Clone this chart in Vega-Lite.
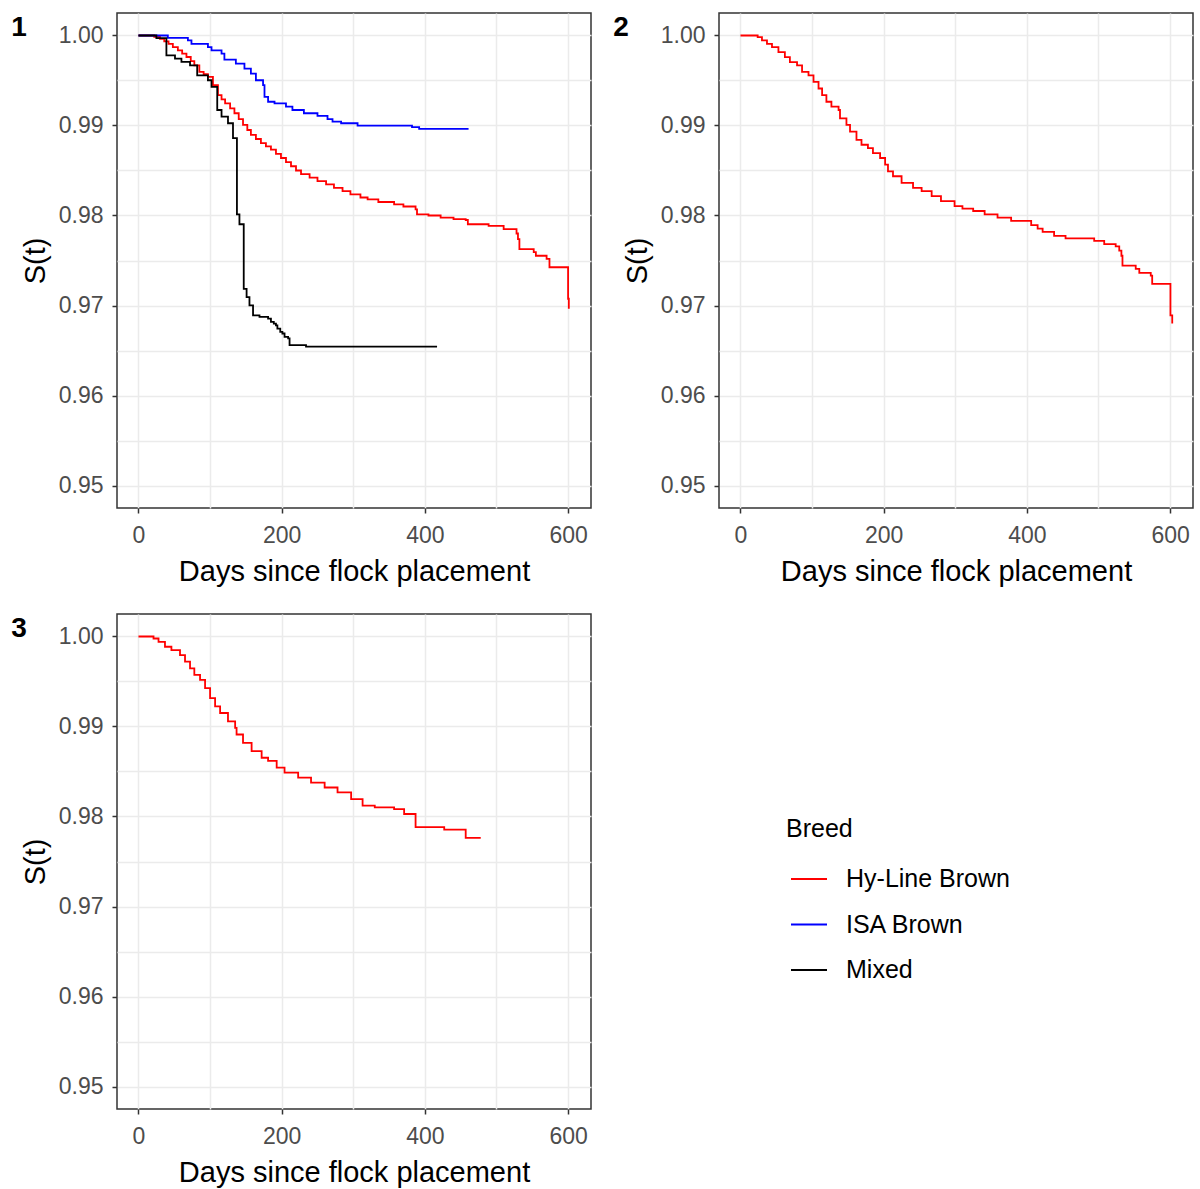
{
  "$schema": "https://vega.github.io/schema/vega-lite/v6.json",
  "padding": {"left": 10, "top": 12, "right": 2, "bottom": 2},
  "background": "white",
  "datasets": {
    "km": [
      {"panel":1,"breed":"Hy-Line Brown","day":0,"surv":1},
      {"panel":1,"breed":"Hy-Line Brown","day":22,"surv":0.99985},
      {"panel":1,"breed":"Hy-Line Brown","day":30,"surv":0.99963},
      {"panel":1,"breed":"Hy-Line Brown","day":36,"surv":0.99935},
      {"panel":1,"breed":"Hy-Line Brown","day":42,"surv":0.99908},
      {"panel":1,"breed":"Hy-Line Brown","day":48,"surv":0.9987},
      {"panel":1,"breed":"Hy-Line Brown","day":55,"surv":0.99834},
      {"panel":1,"breed":"Hy-Line Brown","day":61,"surv":0.99798},
      {"panel":1,"breed":"Hy-Line Brown","day":67,"surv":0.99761},
      {"panel":1,"breed":"Hy-Line Brown","day":73,"surv":0.99715},
      {"panel":1,"breed":"Hy-Line Brown","day":78,"surv":0.99669},
      {"panel":1,"breed":"Hy-Line Brown","day":85,"surv":0.99595},
      {"panel":1,"breed":"Hy-Line Brown","day":91,"surv":0.9957},
      {"panel":1,"breed":"Hy-Line Brown","day":97,"surv":0.9954},
      {"panel":1,"breed":"Hy-Line Brown","day":104,"surv":0.99448},
      {"panel":1,"breed":"Hy-Line Brown","day":111,"surv":0.99338},
      {"panel":1,"breed":"Hy-Line Brown","day":116,"surv":0.9929},
      {"panel":1,"breed":"Hy-Line Brown","day":121,"surv":0.99246},
      {"panel":1,"breed":"Hy-Line Brown","day":128,"surv":0.9919},
      {"panel":1,"breed":"Hy-Line Brown","day":134,"surv":0.99136},
      {"panel":1,"breed":"Hy-Line Brown","day":140,"surv":0.9907},
      {"panel":1,"breed":"Hy-Line Brown","day":146,"surv":0.99007},
      {"panel":1,"breed":"Hy-Line Brown","day":152,"surv":0.9895},
      {"panel":1,"breed":"Hy-Line Brown","day":157,"surv":0.98896},
      {"panel":1,"breed":"Hy-Line Brown","day":164,"surv":0.9885},
      {"panel":1,"breed":"Hy-Line Brown","day":171,"surv":0.98805},
      {"panel":1,"breed":"Hy-Line Brown","day":178,"surv":0.98768},
      {"panel":1,"breed":"Hy-Line Brown","day":185,"surv":0.98731},
      {"panel":1,"breed":"Hy-Line Brown","day":192,"surv":0.98685},
      {"panel":1,"breed":"Hy-Line Brown","day":199,"surv":0.98639},
      {"panel":1,"breed":"Hy-Line Brown","day":206,"surv":0.98593},
      {"panel":1,"breed":"Hy-Line Brown","day":213,"surv":0.98547},
      {"panel":1,"breed":"Hy-Line Brown","day":220,"surv":0.985},
      {"panel":1,"breed":"Hy-Line Brown","day":227,"surv":0.9846},
      {"panel":1,"breed":"Hy-Line Brown","day":239,"surv":0.9842},
      {"panel":1,"breed":"Hy-Line Brown","day":250,"surv":0.98381},
      {"panel":1,"breed":"Hy-Line Brown","day":262,"surv":0.98345},
      {"panel":1,"breed":"Hy-Line Brown","day":273,"surv":0.98308},
      {"panel":1,"breed":"Hy-Line Brown","day":285,"surv":0.9827},
      {"panel":1,"breed":"Hy-Line Brown","day":296,"surv":0.98234},
      {"panel":1,"breed":"Hy-Line Brown","day":310,"surv":0.982},
      {"panel":1,"breed":"Hy-Line Brown","day":320,"surv":0.98179},
      {"panel":1,"breed":"Hy-Line Brown","day":335,"surv":0.9815},
      {"panel":1,"breed":"Hy-Line Brown","day":357,"surv":0.98124},
      {"panel":1,"breed":"Hy-Line Brown","day":370,"surv":0.981},
      {"panel":1,"breed":"Hy-Line Brown","day":387,"surv":0.98068},
      {"panel":1,"breed":"Hy-Line Brown","day":389,"surv":0.98013},
      {"panel":1,"breed":"Hy-Line Brown","day":405,"surv":0.98},
      {"panel":1,"breed":"Hy-Line Brown","day":422,"surv":0.97977},
      {"panel":1,"breed":"Hy-Line Brown","day":440,"surv":0.9796},
      {"panel":1,"breed":"Hy-Line Brown","day":457,"surv":0.9795},
      {"panel":1,"breed":"Hy-Line Brown","day":460,"surv":0.97903},
      {"panel":1,"breed":"Hy-Line Brown","day":489,"surv":0.97885},
      {"panel":1,"breed":"Hy-Line Brown","day":510,"surv":0.97848},
      {"panel":1,"breed":"Hy-Line Brown","day":528,"surv":0.978},
      {"panel":1,"breed":"Hy-Line Brown","day":530,"surv":0.97737},
      {"panel":1,"breed":"Hy-Line Brown","day":532,"surv":0.97627},
      {"panel":1,"breed":"Hy-Line Brown","day":552,"surv":0.97594},
      {"panel":1,"breed":"Hy-Line Brown","day":555,"surv":0.97553},
      {"panel":1,"breed":"Hy-Line Brown","day":570,"surv":0.97517},
      {"panel":1,"breed":"Hy-Line Brown","day":574,"surv":0.97425},
      {"panel":1,"breed":"Hy-Line Brown","day":600,"surv":0.97075},
      {"panel":1,"breed":"Hy-Line Brown","day":601,"surv":0.96965},

      {"panel":1,"breed":"ISA Brown","day":0,"surv":1},
      {"panel":1,"breed":"ISA Brown","day":41,"surv":0.99974},
      {"panel":1,"breed":"ISA Brown","day":69,"surv":0.99945},
      {"panel":1,"breed":"ISA Brown","day":74,"surv":0.99908},
      {"panel":1,"breed":"ISA Brown","day":97,"surv":0.99871},
      {"panel":1,"breed":"ISA Brown","day":102,"surv":0.99834},
      {"panel":1,"breed":"ISA Brown","day":116,"surv":0.99798},
      {"panel":1,"breed":"ISA Brown","day":120,"surv":0.99731},
      {"panel":1,"breed":"ISA Brown","day":136,"surv":0.99688},
      {"panel":1,"breed":"ISA Brown","day":148,"surv":0.99632},
      {"panel":1,"breed":"ISA Brown","day":157,"surv":0.99577},
      {"panel":1,"breed":"ISA Brown","day":164,"surv":0.99503},
      {"panel":1,"breed":"ISA Brown","day":174,"surv":0.99448},
      {"panel":1,"breed":"ISA Brown","day":176,"surv":0.99319},
      {"panel":1,"breed":"ISA Brown","day":181,"surv":0.99264},
      {"panel":1,"breed":"ISA Brown","day":190,"surv":0.99246},
      {"panel":1,"breed":"ISA Brown","day":206,"surv":0.99209},
      {"panel":1,"breed":"ISA Brown","day":215,"surv":0.99172},
      {"panel":1,"breed":"ISA Brown","day":231,"surv":0.99136},
      {"panel":1,"breed":"ISA Brown","day":250,"surv":0.99106},
      {"panel":1,"breed":"ISA Brown","day":264,"surv":0.9907},
      {"panel":1,"breed":"ISA Brown","day":271,"surv":0.99043},
      {"panel":1,"breed":"ISA Brown","day":283,"surv":0.99025},
      {"panel":1,"breed":"ISA Brown","day":306,"surv":0.98999},
      {"panel":1,"breed":"ISA Brown","day":382,"surv":0.98981},
      {"panel":1,"breed":"ISA Brown","day":392,"surv":0.98962},
      {"panel":1,"breed":"ISA Brown","day":461,"surv":0.98962},

      {"panel":1,"breed":"Mixed","day":0,"surv":1},
      {"panel":1,"breed":"Mixed","day":25,"surv":0.9997},
      {"panel":1,"breed":"Mixed","day":39,"surv":0.99779},
      {"panel":1,"breed":"Mixed","day":51,"surv":0.99742},
      {"panel":1,"breed":"Mixed","day":60,"surv":0.99706},
      {"panel":1,"breed":"Mixed","day":72,"surv":0.99669},
      {"panel":1,"breed":"Mixed","day":82,"surv":0.99558},
      {"panel":1,"breed":"Mixed","day":97,"surv":0.99503},
      {"panel":1,"breed":"Mixed","day":102,"surv":0.9943},
      {"panel":1,"breed":"Mixed","day":110,"surv":0.99172},
      {"panel":1,"breed":"Mixed","day":116,"surv":0.99099},
      {"panel":1,"breed":"Mixed","day":125,"surv":0.99025},
      {"panel":1,"breed":"Mixed","day":132,"surv":0.9886},
      {"panel":1,"breed":"Mixed","day":137.5,"surv":0.98013},
      {"panel":1,"breed":"Mixed","day":141,"surv":0.97903},
      {"panel":1,"breed":"Mixed","day":147,"surv":0.97185},
      {"panel":1,"breed":"Mixed","day":151,"surv":0.97094},
      {"panel":1,"breed":"Mixed","day":155,"surv":0.97001},
      {"panel":1,"breed":"Mixed","day":160,"surv":0.96891},
      {"panel":1,"breed":"Mixed","day":169,"surv":0.96873},
      {"panel":1,"breed":"Mixed","day":181,"surv":0.96854},
      {"panel":1,"breed":"Mixed","day":185,"surv":0.96818},
      {"panel":1,"breed":"Mixed","day":189,"surv":0.96799},
      {"panel":1,"breed":"Mixed","day":192,"surv":0.9678},
      {"panel":1,"breed":"Mixed","day":194,"surv":0.96744},
      {"panel":1,"breed":"Mixed","day":198,"surv":0.96707},
      {"panel":1,"breed":"Mixed","day":201,"surv":0.96689},
      {"panel":1,"breed":"Mixed","day":204,"surv":0.96652},
      {"panel":1,"breed":"Mixed","day":209,"surv":0.96634},
      {"panel":1,"breed":"Mixed","day":211,"surv":0.9656},
      {"panel":1,"breed":"Mixed","day":234,"surv":0.96542},
      {"panel":1,"breed":"Mixed","day":417,"surv":0.96542},

      {"panel":2,"breed":"Hy-Line Brown","day":0,"surv":1},
      {"panel":2,"breed":"Hy-Line Brown","day":24,"surv":0.99982},
      {"panel":2,"breed":"Hy-Line Brown","day":30,"surv":0.99945},
      {"panel":2,"breed":"Hy-Line Brown","day":37,"surv":0.99908},
      {"panel":2,"breed":"Hy-Line Brown","day":44,"surv":0.99871},
      {"panel":2,"breed":"Hy-Line Brown","day":53,"surv":0.99816},
      {"panel":2,"breed":"Hy-Line Brown","day":62,"surv":0.9976},
      {"panel":2,"breed":"Hy-Line Brown","day":69,"surv":0.99705},
      {"panel":2,"breed":"Hy-Line Brown","day":79,"surv":0.99669},
      {"panel":2,"breed":"Hy-Line Brown","day":86,"surv":0.99595},
      {"panel":2,"breed":"Hy-Line Brown","day":95,"surv":0.99558},
      {"panel":2,"breed":"Hy-Line Brown","day":102,"surv":0.99485},
      {"panel":2,"breed":"Hy-Line Brown","day":109,"surv":0.99411},
      {"panel":2,"breed":"Hy-Line Brown","day":114,"surv":0.99338},
      {"panel":2,"breed":"Hy-Line Brown","day":120,"surv":0.99264},
      {"panel":2,"breed":"Hy-Line Brown","day":127,"surv":0.99209},
      {"panel":2,"breed":"Hy-Line Brown","day":137,"surv":0.99172},
      {"panel":2,"breed":"Hy-Line Brown","day":139,"surv":0.9908},
      {"panel":2,"breed":"Hy-Line Brown","day":148,"surv":0.99007},
      {"panel":2,"breed":"Hy-Line Brown","day":153,"surv":0.98933},
      {"panel":2,"breed":"Hy-Line Brown","day":162,"surv":0.98841},
      {"panel":2,"breed":"Hy-Line Brown","day":169,"surv":0.98786},
      {"panel":2,"breed":"Hy-Line Brown","day":178,"surv":0.98749},
      {"panel":2,"breed":"Hy-Line Brown","day":185,"surv":0.98694},
      {"panel":2,"breed":"Hy-Line Brown","day":195,"surv":0.98639},
      {"panel":2,"breed":"Hy-Line Brown","day":202,"surv":0.98565},
      {"panel":2,"breed":"Hy-Line Brown","day":206,"surv":0.98491},
      {"panel":2,"breed":"Hy-Line Brown","day":213,"surv":0.98436},
      {"panel":2,"breed":"Hy-Line Brown","day":225,"surv":0.98363},
      {"panel":2,"breed":"Hy-Line Brown","day":241,"surv":0.98308},
      {"panel":2,"breed":"Hy-Line Brown","day":253,"surv":0.9827},
      {"panel":2,"breed":"Hy-Line Brown","day":267,"surv":0.98215},
      {"panel":2,"breed":"Hy-Line Brown","day":280,"surv":0.9816},
      {"panel":2,"breed":"Hy-Line Brown","day":299,"surv":0.98105},
      {"panel":2,"breed":"Hy-Line Brown","day":310,"surv":0.98076},
      {"panel":2,"breed":"Hy-Line Brown","day":325,"surv":0.9805},
      {"panel":2,"breed":"Hy-Line Brown","day":341,"surv":0.98013},
      {"panel":2,"breed":"Hy-Line Brown","day":359,"surv":0.97977},
      {"panel":2,"breed":"Hy-Line Brown","day":378,"surv":0.9794},
      {"panel":2,"breed":"Hy-Line Brown","day":406,"surv":0.97892},
      {"panel":2,"breed":"Hy-Line Brown","day":415,"surv":0.97855},
      {"panel":2,"breed":"Hy-Line Brown","day":422,"surv":0.97818},
      {"panel":2,"breed":"Hy-Line Brown","day":438,"surv":0.97774},
      {"panel":2,"breed":"Hy-Line Brown","day":454,"surv":0.97745},
      {"panel":2,"breed":"Hy-Line Brown","day":494,"surv":0.97719},
      {"panel":2,"breed":"Hy-Line Brown","day":508,"surv":0.97682},
      {"panel":2,"breed":"Hy-Line Brown","day":524,"surv":0.97657},
      {"panel":2,"breed":"Hy-Line Brown","day":529,"surv":0.97609},
      {"panel":2,"breed":"Hy-Line Brown","day":532,"surv":0.97553},
      {"panel":2,"breed":"Hy-Line Brown","day":533.5,"surv":0.97443},
      {"panel":2,"breed":"Hy-Line Brown","day":552,"surv":0.97406},
      {"panel":2,"breed":"Hy-Line Brown","day":557,"surv":0.97362},
      {"panel":2,"breed":"Hy-Line Brown","day":573,"surv":0.97332},
      {"panel":2,"breed":"Hy-Line Brown","day":575,"surv":0.97241},
      {"panel":2,"breed":"Hy-Line Brown","day":600.5,"surv":0.96891},
      {"panel":2,"breed":"Hy-Line Brown","day":603,"surv":0.96799},

      {"panel":3,"breed":"Hy-Line Brown","day":0,"surv":1},
      {"panel":3,"breed":"Hy-Line Brown","day":21,"surv":0.99978},
      {"panel":3,"breed":"Hy-Line Brown","day":28,"surv":0.99941},
      {"panel":3,"breed":"Hy-Line Brown","day":37,"surv":0.99886},
      {"panel":3,"breed":"Hy-Line Brown","day":46,"surv":0.99849},
      {"panel":3,"breed":"Hy-Line Brown","day":58,"surv":0.99794},
      {"panel":3,"breed":"Hy-Line Brown","day":65,"surv":0.9972},
      {"panel":3,"breed":"Hy-Line Brown","day":72,"surv":0.99646},
      {"panel":3,"breed":"Hy-Line Brown","day":78,"surv":0.99573},
      {"panel":3,"breed":"Hy-Line Brown","day":86,"surv":0.99518},
      {"panel":3,"breed":"Hy-Line Brown","day":93,"surv":0.99426},
      {"panel":3,"breed":"Hy-Line Brown","day":100,"surv":0.99316},
      {"panel":3,"breed":"Hy-Line Brown","day":107,"surv":0.99224},
      {"panel":3,"breed":"Hy-Line Brown","day":114,"surv":0.9915},
      {"panel":3,"breed":"Hy-Line Brown","day":125,"surv":0.99058},
      {"panel":3,"breed":"Hy-Line Brown","day":135,"surv":0.98985},
      {"panel":3,"breed":"Hy-Line Brown","day":137,"surv":0.98911},
      {"panel":3,"breed":"Hy-Line Brown","day":146,"surv":0.98819},
      {"panel":3,"breed":"Hy-Line Brown","day":158,"surv":0.98727},
      {"panel":3,"breed":"Hy-Line Brown","day":172,"surv":0.98653},
      {"panel":3,"breed":"Hy-Line Brown","day":181,"surv":0.98617},
      {"panel":3,"breed":"Hy-Line Brown","day":193,"surv":0.98543},
      {"panel":3,"breed":"Hy-Line Brown","day":204,"surv":0.98488},
      {"panel":3,"breed":"Hy-Line Brown","day":223,"surv":0.98433},
      {"panel":3,"breed":"Hy-Line Brown","day":241,"surv":0.98377},
      {"panel":3,"breed":"Hy-Line Brown","day":260,"surv":0.98322},
      {"panel":3,"breed":"Hy-Line Brown","day":278,"surv":0.98267},
      {"panel":3,"breed":"Hy-Line Brown","day":297,"surv":0.98193},
      {"panel":3,"breed":"Hy-Line Brown","day":313,"surv":0.9812},
      {"panel":3,"breed":"Hy-Line Brown","day":330,"surv":0.98102},
      {"panel":3,"breed":"Hy-Line Brown","day":357,"surv":0.98083},
      {"panel":3,"breed":"Hy-Line Brown","day":371,"surv":0.98028},
      {"panel":3,"breed":"Hy-Line Brown","day":387,"surv":0.97881},
      {"panel":3,"breed":"Hy-Line Brown","day":427,"surv":0.97855},
      {"panel":3,"breed":"Hy-Line Brown","day":457,"surv":0.97763},
      {"panel":3,"breed":"Hy-Line Brown","day":478,"surv":0.97763}
    ]
  },
  "config": {
    "font": "Liberation Sans",
    "view": {"stroke": "#333333", "strokeWidth": 1.5},
    "axis": {
      "domain": false,
      "gridColor": "#ebebeb",
      "gridWidth": 1.5,
      "tickSize": 5,
      "tickWidth": 1.5,
      "labelFont": "Liberation Sans",
      "labelFontSize": 23,
      "labelColor": "#4d4d4d",
      "titleFont": "Liberation Sans",
      "titleFontSize": 29,
      "titleFontWeight": "normal",
      "titleColor": "#000000"
    },
    "axisX": {"labelPadding": 11, "titlePadding": 10},
    "axisY": {"labelPadding": 9, "titlePadding": 8},
    "title": {"fontSize": 28, "fontWeight": "bold", "font": "Liberation Sans", "anchor": "start", "color": "#000000", "offset": 0, "dx": -10, "dy": 33, "frame": "bounds"},
    "legend": {
      "orient": "none",
      "legendX": 669,
      "legendY": 804,
      "titleFont": "Liberation Sans",
      "titleFontSize": 25,
      "titleFontWeight": "normal",
      "titleColor": "#000000",
      "titlePadding": 18,
      "labelFont": "Liberation Sans",
      "labelFontSize": 25,
      "labelColor": "#000000",
      "labelOffset": 18,
      "labelLimit": 400,
      "symbolType": "stroke",
      "symbolSize": 1296,
      "symbolStrokeWidth": 1.8,
      "symbolOffset": 4,
      "rowPadding": 13.5,
      "padding": 0
    },
    "line": {"interpolate": "step-after", "strokeWidth": 1.8}
  },
  "vconcat": [
    {
      "hconcat": [
        {
          "title": "1",
          "width": 474, "height": 495,
          "data": {"name": "km"},
          "transform": [{"filter": "datum.panel == 1"}],
          "mark": {"type": "line", "interpolate": "step-after"},
          "encoding": {
            "x": {"field": "day", "type": "quantitative", "title": "Days since flock placement",
              "scale": {"domain": [-30, 632], "nice": false, "zero": false},
              "axis": {"values": [0,100,200,300,400,500,600], "labelExpr": "datum.value % 200 === 0 ? datum.label : ''", "format": "d",
                "tickColor": {"condition": {"test": "datum.value % 200 === 0", "value": "#333333"}, "value": "transparent"}}},
            "y": {"field": "surv", "type": "quantitative", "title": "S(t)",
              "scale": {"domain": [0.9475, 1.0025], "nice": false, "zero": false},
              "axis": {"values": [0.95,0.955,0.96,0.965,0.97,0.975,0.98,0.985,0.99,0.995,1.0], "labelExpr": "round(datum.value*1000) % 10 === 0 ? format(datum.value, '.2f') : ''",
                "tickColor": {"condition": {"test": "round(datum.value*1000) % 10 === 0", "value": "#333333"}, "value": "transparent"}}},
            "color": {"field": "breed", "type": "nominal", "title": "Breed",
              "scale": {"domain": ["Hy-Line Brown", "ISA Brown", "Mixed"], "range": ["#ff0000", "#0000ff", "#000000"]}}
          }
        },
        {
          "title": "2",
          "width": 474, "height": 495,
          "data": {"name": "km"},
          "transform": [{"filter": "datum.panel == 2"}],
          "mark": {"type": "line", "interpolate": "step-after"},
          "encoding": {
            "x": {"field": "day", "type": "quantitative", "title": "Days since flock placement",
              "scale": {"domain": [-30, 632], "nice": false, "zero": false},
              "axis": {"values": [0,100,200,300,400,500,600], "labelExpr": "datum.value % 200 === 0 ? datum.label : ''", "format": "d",
                "tickColor": {"condition": {"test": "datum.value % 200 === 0", "value": "#333333"}, "value": "transparent"}}},
            "y": {"field": "surv", "type": "quantitative", "title": "S(t)",
              "scale": {"domain": [0.9475, 1.0025], "nice": false, "zero": false},
              "axis": {"values": [0.95,0.955,0.96,0.965,0.97,0.975,0.98,0.985,0.99,0.995,1.0], "labelExpr": "round(datum.value*1000) % 10 === 0 ? format(datum.value, '.2f') : ''",
                "tickColor": {"condition": {"test": "round(datum.value*1000) % 10 === 0", "value": "#333333"}, "value": "transparent"}}},
            "color": {"field": "breed", "type": "nominal", "title": "Breed",
              "scale": {"domain": ["Hy-Line Brown", "ISA Brown", "Mixed"], "range": ["#ff0000", "#0000ff", "#000000"]}}
          }
        }
      ],
      "spacing": 20
    },
    {
      "hconcat": [
        {
          "title": "3",
          "width": 474, "height": 495,
          "data": {"name": "km"},
          "transform": [{"filter": "datum.panel == 3"}],
          "mark": {"type": "line", "interpolate": "step-after"},
          "encoding": {
            "x": {"field": "day", "type": "quantitative", "title": "Days since flock placement",
              "scale": {"domain": [-30, 632], "nice": false, "zero": false},
              "axis": {"values": [0,100,200,300,400,500,600], "labelExpr": "datum.value % 200 === 0 ? datum.label : ''", "format": "d",
                "tickColor": {"condition": {"test": "datum.value % 200 === 0", "value": "#333333"}, "value": "transparent"}}},
            "y": {"field": "surv", "type": "quantitative", "title": "S(t)",
              "scale": {"domain": [0.9475, 1.0025], "nice": false, "zero": false},
              "axis": {"values": [0.95,0.955,0.96,0.965,0.97,0.975,0.98,0.985,0.99,0.995,1.0], "labelExpr": "round(datum.value*1000) % 10 === 0 ? format(datum.value, '.2f') : ''",
                "tickColor": {"condition": {"test": "round(datum.value*1000) % 10 === 0", "value": "#333333"}, "value": "transparent"}}},
            "color": {"field": "breed", "type": "nominal", "title": "Breed",
              "scale": {"domain": ["Hy-Line Brown", "ISA Brown", "Mixed"], "range": ["#ff0000", "#0000ff", "#000000"]}}
          }
        }
      ]
    }
  ],
  "spacing": 26
}
